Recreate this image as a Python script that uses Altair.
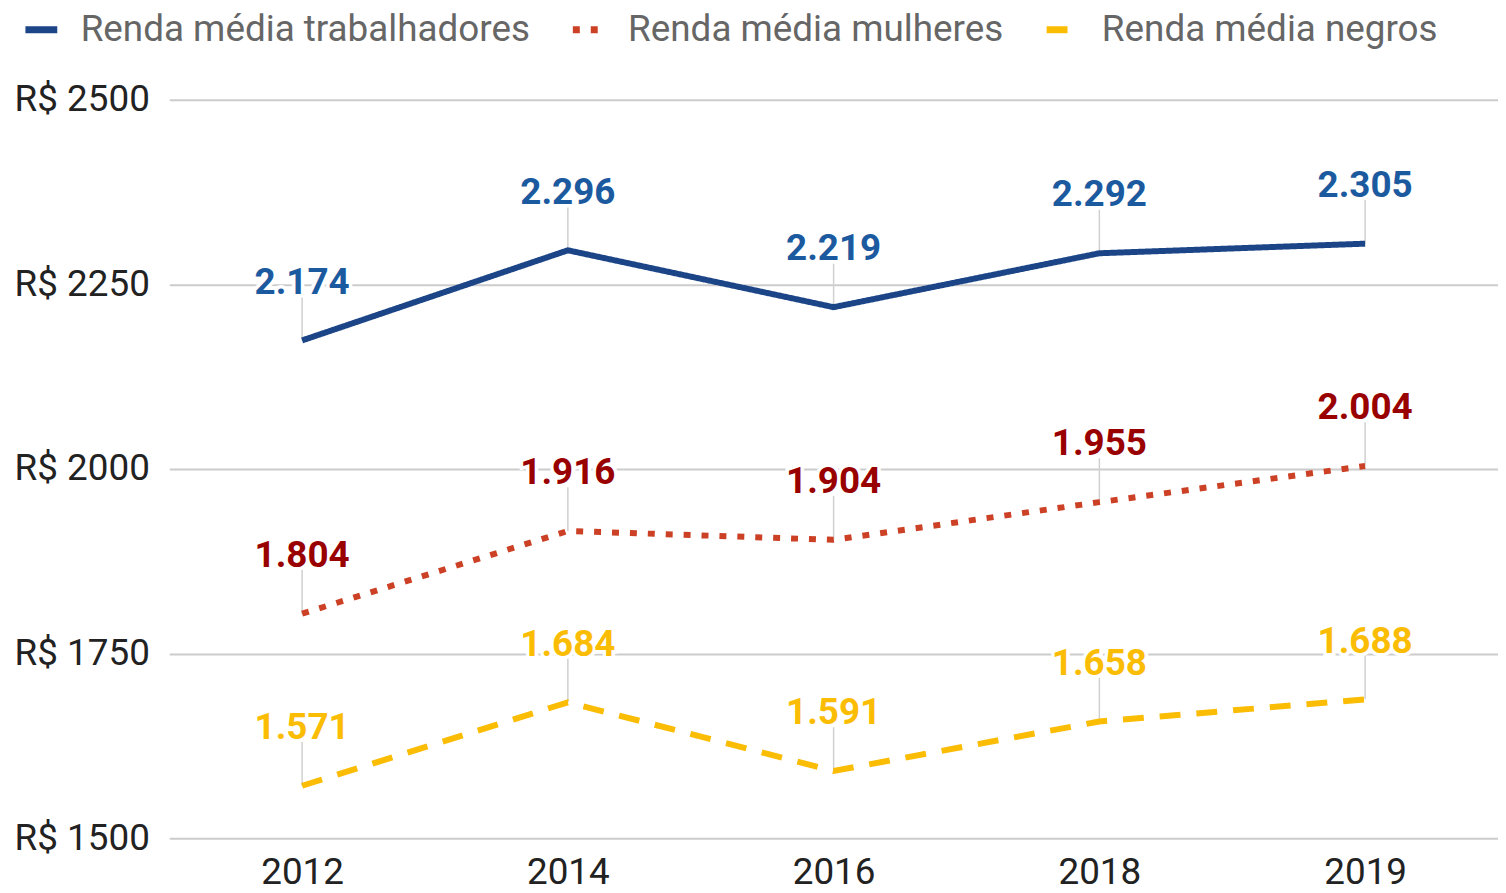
import altair as alt
import pandas as pd

years = ["2012", "2014", "2016", "2018", "2019"]
series_names = ["Renda média trabalhadores", "Renda média mulheres", "Renda média negros"]
renda_trabalhadores = [2174, 2296, 2219, 2292, 2305]
renda_mulheres = [1804, 1916, 1904, 1955, 2004]
renda_negros = [1571, 1684, 1591, 1658, 1688]
y_ticks = [1500, 1750, 2000, 2250, 2500]

line_colors = ["#1c4587", "#cc4125", "#fbbc04"]
label_colors = ["#1c5aa0", "#990000", "#fbbc04"]
dashes = [[1, 0], [7, 11], [21, 16]]

rows = []
for name, vals, lc in zip(series_names, [renda_trabalhadores, renda_mulheres, renda_negros], label_colors):
    for yr, v in zip(years, vals):
        rows.append({"ano": yr, "serie": name, "valor": v,
                     "rotulo": f"{v:,}".replace(",", "."), "cor": lc})
df = pd.DataFrame(rows)

FONT = "Roboto"
x_enc = alt.X("ano:O", title=None, sort=years,
              scale=alt.Scale(type="point", padding=0.5),
              axis=alt.Axis(labelAngle=0, labelAlign="center", labelBaseline="top",
                            labelFontSize=37, labelColor="#222", labelPadding=17,
                            ticks=False, domain=False, grid=False, labelFont=FONT))
y_enc = alt.Y("valor:Q", title=None,
              scale=alt.Scale(domain=[1500, 2500], nice=False, zero=False),
              axis=alt.Axis(values=y_ticks, labelExpr="'R$ ' + datum.value",
                            labelFontSize=37, labelColor="#222", labelPadding=20,
                            ticks=False, domain=False, gridColor="#cccccc",
                            gridWidth=2, labelFont=FONT))

legend = alt.Legend(title=None, orient="none", legendX=-148, legendY=-90,
                    direction="horizontal", symbolType="stroke", symbolSize=1024,
                    symbolStrokeWidth=7, labelFontSize=37, labelColor="#666",
                    labelFont=FONT, labelOffset=20, columnPadding=28, labelLimit=0)

base = alt.Chart(df)

lines = base.mark_line(strokeWidth=6, strokeCap="butt").encode(
    x=x_enc, y=y_enc,
    color=alt.Color("serie:N", sort=series_names,
                    scale=alt.Scale(domain=series_names, range=line_colors),
                    legend=legend),
    strokeDash=alt.StrokeDash("serie:N", sort=series_names,
                              scale=alt.Scale(domain=series_names, range=dashes),
                              legend=legend),
)

leaders = base.mark_rule(color="#d0d0d0", strokeWidth=1.5, y2Offset=-44).encode(
    x=x_enc, y=y_enc, y2="valor:Q")

halo = base.mark_text(dy=-47, baseline="alphabetic", fontSize=37, fontWeight="bold",
                      font=FONT, stroke="white", strokeWidth=7, fill="white").encode(
    x=x_enc, y=y_enc, text="rotulo:N")

labels = base.mark_text(dy=-47, baseline="alphabetic", fontSize=37, fontWeight="bold",
                        font=FONT).encode(
    x=x_enc, y=y_enc, text="rotulo:N",
    color=alt.Color("cor:N", scale=None))

chart = alt.layer(leaders, lines, halo, labels).properties(
    width=1335, height=742,
    autosize=alt.AutoSizeParams(type="none"),
    padding={"left": 162, "top": 90, "right": 0, "bottom": 52},
).configure(font=FONT).configure_view(stroke=None)

chart.save("out.html", embed_options={"renderer": "svg", "actions": False})
